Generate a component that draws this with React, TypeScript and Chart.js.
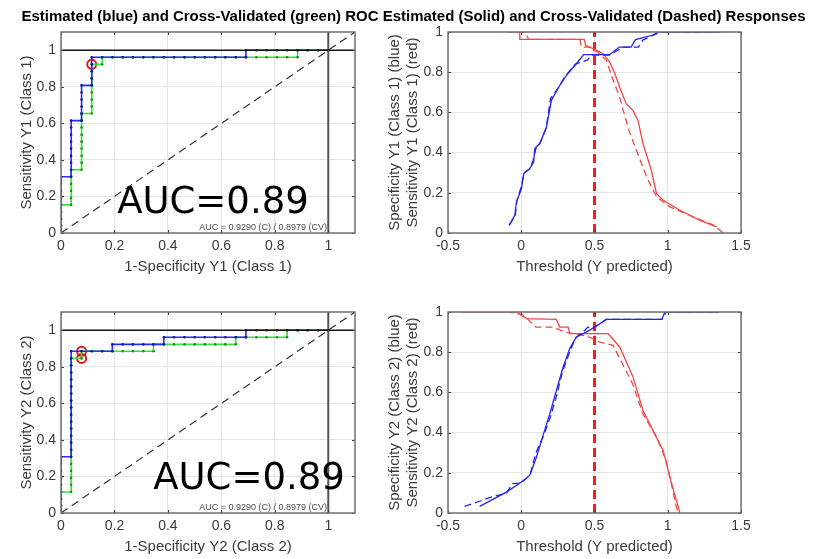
import React, { useEffect, useRef } from 'react';
import { Chart, registerables } from 'chart.js';

Chart.register(...registerables);

type Pt = [number, number];

const W = 823;
const H = 559;
const FONT = '"Liberation Sans", Arial, Helvetica, sans-serif';

// ---------------- text ----------------
const FIG_TITLE =
  'Estimated (blue) and Cross-Validated (green) ROC Estimated (Solid) and Cross-Validated (Dashed) Responses';
const AUC_BIG = 'AUC=0.89';
const AUC_SMALL = 'AUC = 0.9290 (C) / 0.8979 (CV)';
const X_TITLE_ROC1 = '1-Specificity Y1 (Class 1)';
const Y_TITLE_ROC1 = 'Sensitivity Y1 (Class 1)';
const X_TITLE_ROC2 = '1-Specificity Y2 (Class 2)';
const Y_TITLE_ROC2 = 'Sensitivity Y2 (Class 2)';
const X_TITLE_THR = 'Threshold (Y predicted)';
const Y_TITLE_THR1 = ['Specificity Y1 (Class 1) (blue)', 'Sensitivity Y1 (Class 1) (red)'];
const Y_TITLE_THR2 = ['Specificity Y2 (Class 2) (blue)', 'Sensitivity Y2 (Class 2) (red)'];

// ---------------- ticks ----------------
const rocTicks = [0, 0.2, 0.4, 0.6, 0.8, 1];
const rocTickLabels = ['0', '0.2', '0.4', '0.6', '0.8', '1'];
const thrXTicks = [-0.5, 0, 0.5, 1, 1.5];
const thrXTickLabels = ['-0.5', '0', '0.5', '1', '1.5'];
const thrYTicks = [0, 0.2, 0.4, 0.6, 0.8, 1];
const thrYTickLabels = ['0', '0.2', '0.4', '0.6', '0.8', '1'];

// ---------------- ROC class 1 ----------------
const roc1Est: Pt[] = [
  [0, 0], [0, 0.038], [0, 0.077], [0, 0.115], [0, 0.154], [0, 0.192], [0, 0.231], [0, 0.269], [0, 0.308],
  [0.038, 0.308], [0.038, 0.346], [0.038, 0.385], [0.038, 0.423], [0.038, 0.462], [0.038, 0.5], [0.038, 0.538], [0.038, 0.577], [0.038, 0.615],
  [0.077, 0.615], [0.077, 0.654], [0.077, 0.692], [0.077, 0.731], [0.077, 0.769], [0.077, 0.808],
  [0.115, 0.808], [0.115, 0.846], [0.115, 0.885], [0.115, 0.923], [0.115, 0.962],
  [0.154, 0.962], [0.192, 0.962], [0.231, 0.962], [0.269, 0.962], [0.308, 0.962], [0.346, 0.962], [0.385, 0.962], [0.423, 0.962],
  [0.462, 0.962], [0.5, 0.962], [0.538, 0.962], [0.577, 0.962], [0.615, 0.962], [0.654, 0.962], [0.692, 0.962],
  [0.692, 1], [0.731, 1], [0.769, 1], [0.808, 1], [0.846, 1], [0.885, 1], [0.923, 1], [0.962, 1], [1, 1],
];
const roc1Cv: Pt[] = [
  [0, 0], [0, 0.038], [0, 0.077], [0, 0.115], [0, 0.154],
  [0.038, 0.154], [0.038, 0.192], [0.038, 0.231], [0.038, 0.269], [0.038, 0.308], [0.038, 0.346],
  [0.077, 0.346], [0.077, 0.385], [0.077, 0.423], [0.077, 0.462], [0.077, 0.5], [0.077, 0.538], [0.077, 0.577], [0.077, 0.615], [0.077, 0.654],
  [0.115, 0.654], [0.115, 0.692], [0.115, 0.731], [0.115, 0.769], [0.115, 0.808], [0.115, 0.846], [0.115, 0.885], [0.115, 0.923],
  [0.154, 0.923], [0.154, 0.962], [0.192, 0.962], [0.231, 0.962], [0.269, 0.962], [0.308, 0.962], [0.346, 0.962], [0.385, 0.962],
  [0.423, 0.962], [0.462, 0.962], [0.5, 0.962], [0.538, 0.962], [0.577, 0.962], [0.615, 0.962], [0.654, 0.962], [0.692, 0.962],
  [0.731, 0.962], [0.769, 0.962], [0.808, 0.962], [0.846, 0.962], [0.885, 0.962],
  [0.885, 1], [0.923, 1], [0.962, 1], [1, 1],
];
const roc1Opt: Pt[] = [[0.115, 0.923]];

// ---------------- ROC class 2 ----------------
const roc2Est: Pt[] = [
  [0, 0], [0, 0.038], [0, 0.077], [0, 0.115], [0, 0.154], [0, 0.192], [0, 0.231], [0, 0.269], [0, 0.308],
  [0.038, 0.308], [0.038, 0.346], [0.038, 0.385], [0.038, 0.423], [0.038, 0.462], [0.038, 0.5], [0.038, 0.538], [0.038, 0.577],
  [0.038, 0.615], [0.038, 0.654], [0.038, 0.692], [0.038, 0.731], [0.038, 0.769], [0.038, 0.808], [0.038, 0.846], [0.038, 0.885],
  [0.077, 0.885], [0.115, 0.885], [0.154, 0.885], [0.192, 0.885],
  [0.192, 0.923], [0.231, 0.923], [0.269, 0.923], [0.308, 0.923], [0.346, 0.923], [0.385, 0.923],
  [0.385, 0.962], [0.423, 0.962], [0.462, 0.962], [0.5, 0.962], [0.538, 0.962], [0.577, 0.962], [0.615, 0.962], [0.654, 0.962], [0.692, 0.962],
  [0.692, 1], [0.731, 1], [0.769, 1], [0.808, 1], [0.846, 1], [0.885, 1], [0.923, 1], [0.962, 1], [1, 1],
];
const roc2Cv: Pt[] = [
  [0, 0], [0, 0.038], [0, 0.077], [0, 0.115],
  [0.038, 0.115], [0.038, 0.154], [0.038, 0.192], [0.038, 0.231], [0.038, 0.269], [0.038, 0.308], [0.038, 0.346], [0.038, 0.385],
  [0.038, 0.423], [0.038, 0.462], [0.038, 0.5], [0.038, 0.538], [0.038, 0.577], [0.038, 0.615], [0.038, 0.654], [0.038, 0.692],
  [0.038, 0.731], [0.038, 0.769], [0.038, 0.808], [0.038, 0.846],
  [0.077, 0.846], [0.077, 0.885],
  [0.115, 0.885], [0.154, 0.885], [0.192, 0.885], [0.231, 0.885], [0.269, 0.885], [0.308, 0.885], [0.346, 0.885],
  [0.346, 0.923], [0.385, 0.923], [0.423, 0.923], [0.462, 0.923], [0.5, 0.923], [0.538, 0.923], [0.577, 0.923], [0.615, 0.923], [0.654, 0.923],
  [0.654, 0.962], [0.692, 0.962], [0.731, 0.962], [0.769, 0.962], [0.808, 0.962], [0.846, 0.962],
  [0.846, 1], [0.885, 1], [0.923, 1], [0.962, 1], [1, 1],
];
const roc2Opt: Pt[] = [[0.077, 0.885], [0.077, 0.846]];

// ROC reference lines
const rocDiag: Pt[] = [[0, 0], [1.1, 1.1]];
const rocTopLine: Pt[] = [[0, 1], [1.1, 1]];
const rocRightLine: Pt[] = [[1, 0], [1, 1.1]];
const aucBigPos1: Pt = [0.21, 0.109];
const aucBigPos2: Pt = [0.345, 0.131];
const aucSmallPos: Pt = [0.995, 0.015];

// ---------------- Threshold responses class 1 ----------------
const spec1Est: Pt[] = [
  [-0.083, 0.038], [-0.044, 0.088], [-0.033, 0.154], [0.001, 0.22], [0.017, 0.295], [0.058, 0.32], [0.085, 0.353],
  [0.092, 0.42], [0.126, 0.444], [0.172, 0.527], [0.206, 0.66], [0.263, 0.735], [0.308, 0.784], [0.376, 0.842],
  [0.426, 0.887], [0.603, 0.887], [0.67, 0.925], [0.75, 0.925], [0.78, 0.962], [0.9, 0.985], [0.935, 1], [1.36, 1],
];
const spec1Cv: Pt[] = [
  [-0.08, 0.04], [-0.04, 0.09], [-0.03, 0.16], [0.0, 0.23], [0.02, 0.3], [0.06, 0.32], [0.08, 0.36], [0.1, 0.42],
  [0.13, 0.45], [0.17, 0.52], [0.2, 0.67], [0.25, 0.72], [0.3, 0.78], [0.37, 0.84], [0.45, 0.86], [0.48, 0.885],
  [0.6, 0.885], [0.7, 0.925], [0.8, 0.925], [0.83, 0.96], [0.95, 1], [1.3, 1],
];
const sens1Est: Pt[] = [
  [-0.09, 1], [-0.01, 1], [-0.01, 0.963], [0.43, 0.963], [0.44, 0.934], [0.49, 0.917], [0.56, 0.892], [0.604, 0.85],
  [0.639, 0.793], [0.671, 0.726], [0.716, 0.643], [0.762, 0.61], [0.797, 0.56], [0.831, 0.444], [0.888, 0.312],
  [0.923, 0.196], [0.969, 0.163], [1.083, 0.113], [1.22, 0.063], [1.333, 0.03],
];
const sens1Cv: Pt[] = [
  [-0.02, 1], [0.03, 1], [0.05, 0.963], [0.4, 0.963], [0.41, 0.925], [0.47, 0.925], [0.52, 0.9], [0.58, 0.86],
  [0.627, 0.76], [0.67, 0.68], [0.696, 0.61], [0.74, 0.5], [0.787, 0.41], [0.855, 0.28], [0.923, 0.18],
  [1.015, 0.13], [1.174, 0.08], [1.31, 0.04], [1.38, 0],
];

// ---------------- Threshold responses class 2 ----------------
const spec2Est: Pt[] = [
  [-0.284, 0.033], [-0.101, 0.104], [0.001, 0.154], [0.058, 0.187], [0.104, 0.279], [0.149, 0.386], [0.195, 0.494],
  [0.24, 0.61], [0.286, 0.726], [0.331, 0.818], [0.376, 0.876], [0.444, 0.9], [0.501, 0.925], [0.581, 0.963],
  [0.96, 0.963], [0.98, 1], [1.35, 1],
];
const spec2Cv: Pt[] = [
  [-0.387, 0.033], [-0.2, 0.08], [-0.1, 0.1], [-0.06, 0.146], [0.0, 0.15], [0.06, 0.19], [0.1, 0.3], [0.15, 0.38],
  [0.2, 0.48], [0.24, 0.58], [0.28, 0.7], [0.33, 0.8], [0.37, 0.87], [0.42, 0.9], [0.456, 0.925], [0.49, 0.92],
  [0.58, 0.963], [0.96, 0.963], [0.99, 1], [1.3, 1],
];
const sens2Est: Pt[] = [
  [-0.398, 1], [-0.033, 1], [0.035, 0.967], [0.24, 0.963], [0.263, 0.925], [0.32, 0.925], [0.331, 0.892],
  [0.593, 0.892], [0.672, 0.826], [0.763, 0.677], [0.831, 0.51], [0.9, 0.41], [0.969, 0.31], [1.014, 0.18], [1.083, 0],
];
const sens2Cv: Pt[] = [
  [-0.1, 1], [0.0, 0.99], [0.03, 0.975], [0.1, 0.925], [0.217, 0.925], [0.3, 0.9], [0.45, 0.88], [0.536, 0.85],
  [0.627, 0.834], [0.76, 0.643], [0.83, 0.494], [0.923, 0.378], [0.99, 0.26], [1.049, 0.063], [1.07, 0],
];
const thresholdLine: Pt[] = [[0.5, 0], [0.5, 1]];

// ---------------- helpers ----------------
const toXY = (pts: Pt[]) => pts.map(([x, y]) => ({ x, y }));

type Area = { left: number; top: number; right: number; bottom: number };

function axis(
  min: number, max: number, vals: number[], labels: string[], title: string | string[],
  isX: boolean, fit: number, titlePad: number, tickPad: number,
) {
  return {
    type: 'linear',
    position: isX ? 'bottom' : 'left',
    min,
    max,
    afterBuildTicks: (s: any) => {
      s.ticks = vals.map((v) => ({ value: v }));
    },
    afterFit: (s: any) => {
      if (isX) s.height = fit;
      else s.width = fit;
      s.paddingLeft = 0;
      s.paddingRight = 0;
      s.paddingTop = 0;
      s.paddingBottom = 0;
    },
    grid: { color: '#e4e4e4', lineWidth: 1, drawTicks: false },
    border: { display: false },
    ticks: {
      autoSkip: false,
      maxRotation: 0,
      color: '#3a3a3a',
      padding: tickPad,
      font: { family: FONT, size: 14 },
      callback: (_v: any, i: number) => labels[i],
    },
    title: {
      display: true,
      text: title,
      color: '#3a3a3a',
      font: { family: FONT, size: 15, lineHeight: 1.2 },
      padding: isX ? { top: 0, bottom: titlePad } : { top: titlePad, bottom: 0 },
    },
  };
}

const boxPlugin = {
  id: 'matlabBox',
  afterDatasetsDraw(chart: any) {
    const { ctx, chartArea: a, scales } = chart;
    const x = scales.x;
    const y = scales.y;
    ctx.save();
    ctx.strokeStyle = '#3a3a3a';
    ctx.lineWidth = 1;
    ctx.beginPath();
    for (const t of x.ticks) {
      const px = Math.round(x.getPixelForValue(t.value)) + 0.5;
      ctx.moveTo(px, a.bottom);
      ctx.lineTo(px, a.bottom - 3);
      ctx.moveTo(px, a.top);
      ctx.lineTo(px, a.top + 3);
    }
    for (const t of y.ticks) {
      const py = Math.round(y.getPixelForValue(t.value)) + 0.5;
      ctx.moveTo(a.left, py);
      ctx.lineTo(a.left + 3, py);
      ctx.moveTo(a.right, py);
      ctx.lineTo(a.right - 3, py);
    }
    ctx.stroke();
    ctx.strokeStyle = '#707070';
    ctx.lineWidth = 1.5;
    ctx.strokeRect(a.left, a.top, a.right - a.left, a.bottom - a.top);
    ctx.restore();
  },
};

function rocTextPlugin(bigPos: Pt) {
  return {
    id: 'rocText',
    afterDatasetsDraw(chart: any) {
      const { ctx, scales } = chart;
      const x = scales.x;
      const y = scales.y;
      ctx.save();
      ctx.fillStyle = '#000';
      ctx.font = '37px "DejaVu Sans", sans-serif';
      ctx.textAlign = 'left';
      ctx.textBaseline = 'alphabetic';
      ctx.fillText(AUC_BIG, x.getPixelForValue(bigPos[0]), y.getPixelForValue(bigPos[1]));
      ctx.font = `9px ${FONT}`;
      ctx.fillStyle = '#4a4a4a';
      ctx.textAlign = 'right';
      ctx.fillText(AUC_SMALL, x.getPixelForValue(aucSmallPos[0]), y.getPixelForValue(aucSmallPos[1]));
      ctx.restore();
    },
  };
}

const titlePlugin = {
  id: 'figTitle',
  afterDraw(chart: any) {
    const ctx = chart.ctx;
    ctx.save();
    ctx.font = `bold 14px ${FONT}`;
    const w = ctx.measureText(FIG_TITLE).width;
    const target = 784;
    ctx.translate(413.5, 21);
    ctx.scale(target / w, 1);
    ctx.textAlign = 'center';
    ctx.textBaseline = 'alphabetic';
    ctx.fillStyle = '#000';
    ctx.fillText(FIG_TITLE, 0, 0);
    ctx.restore();
  },
};

function baseOptions(area: Area, yFit: number, xFit: number) {
  return {
    responsive: false,
    maintainAspectRatio: false,
    animation: false,
    devicePixelRatio: 1,
    events: [],
    layout: {
      padding: {
        left: area.left - yFit,
        right: W - area.right,
        top: area.top,
        bottom: H - area.bottom - xFit,
      },
    },
    plugins: { legend: { display: false }, tooltip: { enabled: false }, title: { display: false } },
  };
}

function lineDs(pts: Pt[], color: string, width: number, dash: number[] = [], extra: any = {}) {
  return {
    data: toXY(pts),
    showLine: true,
    borderColor: color,
    borderWidth: width,
    borderDash: dash,
    pointRadius: 0,
    tension: 0,
    ...extra,
  };
}

function rocConfig(area: Area, est: Pt[], cv: Pt[], opt: Pt[], xTitle: string, yTitle: string, bigPos: Pt, withTitle: boolean) {
  const opts: any = baseOptions(area, 50, 45);
  opts.scales = {
    x: axis(0, 1.1, rocTicks, rocTickLabels, xTitle, true, 45, 2, 5),
    y: axis(0, 1.1, rocTicks, rocTickLabels, yTitle, false, 50, 7, 5),
  };
  const plugins: any[] = [boxPlugin, rocTextPlugin(bigPos)];
  if (withTitle) plugins.push(titlePlugin);
  return {
    type: 'scatter',
    data: {
      datasets: [
        lineDs(rocDiag, '#333333', 1.2, [8, 5]),
        lineDs(rocTopLine, '#111111', 1.3),
        lineDs(rocRightLine, '#555555', 2),
        lineDs(est, '#2b2bff', 1.6, [], { pointRadius: 1.3, pointBackgroundColor: '#12129a', pointBorderWidth: 0 }),
        lineDs(cv, '#2ee62e', 1.6, [], { pointRadius: 1.3, pointBackgroundColor: '#149414', pointBorderWidth: 0 }),
        {
          data: toXY(opt),
          showLine: false,
          pointRadius: 4.5,
          pointBorderColor: '#e41414',
          pointBorderWidth: 2,
          pointBackgroundColor: 'rgba(0,0,0,0)',
        },
      ],
    },
    options: opts,
    plugins,
  };
}

function thrConfig(area: Area, specEst: Pt[], specCv: Pt[], sensEst: Pt[], sensCv: Pt[], yTitle: string[]) {
  const opts: any = baseOptions(area, 70, 45);
  opts.scales = {
    x: axis(-0.5, 1.5, thrXTicks, thrXTickLabels, X_TITLE_THR, true, 45, 2, 5),
    y: axis(0, 1, thrYTicks, thrYTickLabels, yTitle, false, 70, 8, 5),
  };
  return {
    type: 'scatter',
    data: {
      datasets: [
        lineDs(specEst, '#2424f0', 1.3),
        lineDs(specCv, '#2424f0', 1.3, [7, 4]),
        lineDs(sensEst, '#f04848', 1.3),
        lineDs(sensCv, '#f04848', 1.3, [7, 4]),
        lineDs(thresholdLine, '#ff1a1a', 3, [9, 5]),
      ],
    },
    options: opts,
    plugins: [boxPlugin],
  };
}

const areaTL: Area = { left: 61, top: 32, right: 355, bottom: 233 };
const areaTR: Area = { left: 448, top: 32, right: 741, bottom: 233 };
const areaBL: Area = { left: 61, top: 312, right: 355, bottom: 513 };
const areaBR: Area = { left: 448, top: 312, right: 741, bottom: 513 };

function ChartLayer({ make }: { make: () => any }) {
  const ref = useRef<HTMLCanvasElement>(null);
  useEffect(() => {
    const chart = new Chart(ref.current as HTMLCanvasElement, make());
    return () => chart.destroy();
  }, []);
  return (
    <canvas
      ref={ref}
      width={W}
      height={H}
      style={{ position: 'absolute', left: 0, top: 0, width: W, height: H }}
    />
  );
}

export default function App() {
  return (
    <div style={{ position: 'absolute', left: 0, top: 0, width: W, height: H, background: '#ffffff', overflow: 'hidden' }}>
      <ChartLayer make={() => thrConfig(areaTR, spec1Est, spec1Cv, sens1Est, sens1Cv, Y_TITLE_THR1)} />
      <ChartLayer make={() => thrConfig(areaBR, spec2Est, spec2Cv, sens2Est, sens2Cv, Y_TITLE_THR2)} />
      <ChartLayer make={() => rocConfig(areaBL, roc2Est, roc2Cv, roc2Opt, X_TITLE_ROC2, Y_TITLE_ROC2, aucBigPos2, false)} />
      <ChartLayer make={() => rocConfig(areaTL, roc1Est, roc1Cv, roc1Opt, X_TITLE_ROC1, Y_TITLE_ROC1, aucBigPos1, true)} />
    </div>
  );
}
